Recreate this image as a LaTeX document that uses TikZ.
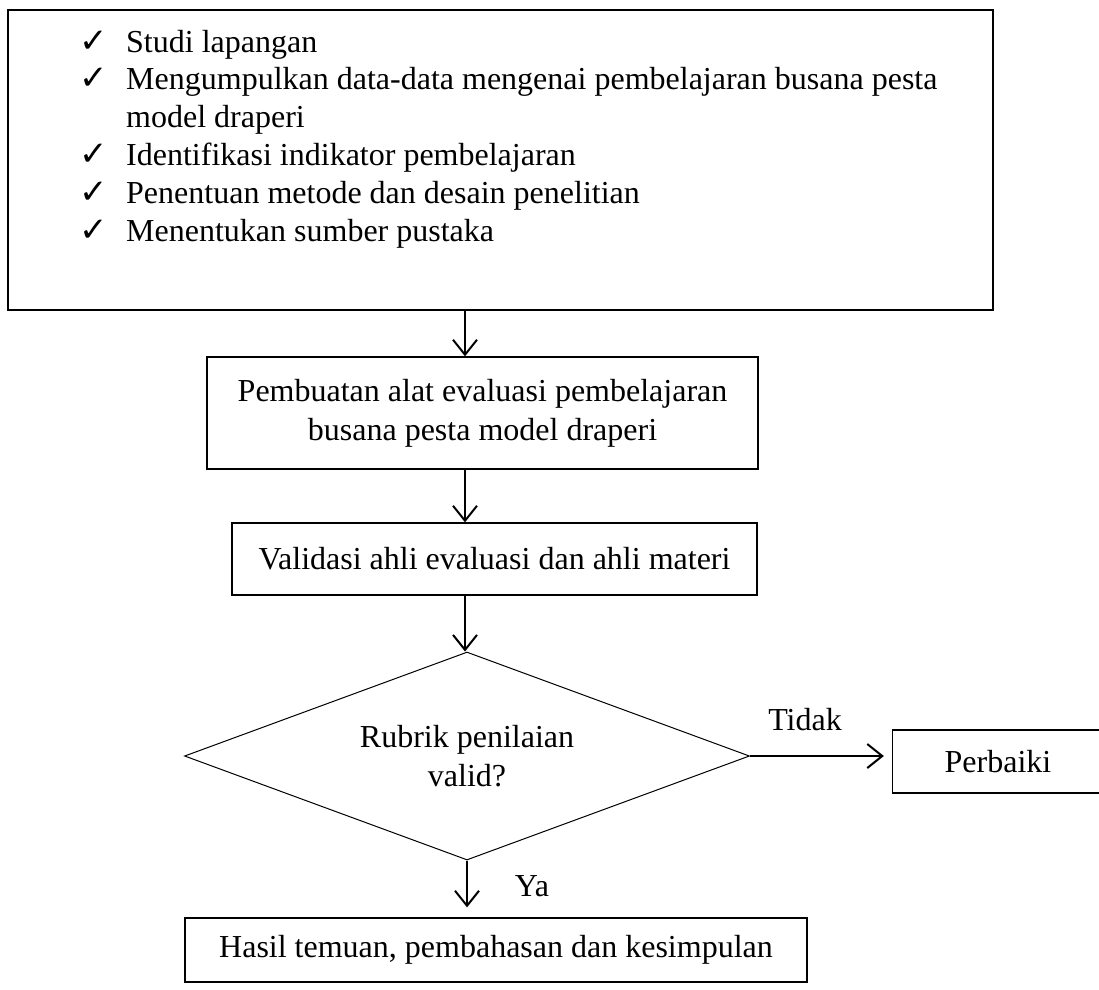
\documentclass[tikz,border=0pt]{standalone}
\usepackage{fontspec}
\setmainfont{Liberation Serif}
\newfontfamily\checkfont{DejaVu Sans}
\usetikzlibrary{shapes.geometric,arrows.meta}
\tikzset{
  box/.style={draw, line width=1.3pt, inner sep=0pt, align=center},
  arr/.style={draw, line width=2pt, -{Straight Barb[length=15pt,width=24pt,line width=2pt]}},
  lbl/.style={inner sep=0pt}
}
\newcommand{\ck}{{\checkfont\fontsize{34}{34}\selectfont ✓}}
\begin{document}
\begin{tikzpicture}[x=1pt,y=-1pt,font=\fontsize{32}{39}\selectfont]
\useasboundingbox (0,0) rectangle (1099,989);
\node[box, minimum width=985pt, minimum height=300pt] (top) at (500.5,160) {};
\node[lbl, anchor=base west] (list) at (79,52) {\fontsize{32}{37.9}\selectfont
\begin{tabular}[t]{@{}p{47pt}@{}l@{}}
\ck & Studi lapangan\\
\ck & Mengumpulkan data-data mengenai pembelajaran busana pesta\\
    & model draperi\\
\ck & Identifikasi indikator pembelajaran\\
\ck & Penentuan metode dan desain penelitian\\
\ck & Menentukan sumber pustaka
\end{tabular}};
\node[box, minimum width=551pt, minimum height=112pt] (b2) at (482.5,413) {Pembuatan alat evaluasi pembelajaran\\busana pesta model draperi};
\node[box, minimum width=525pt, minimum height=72pt] (b3) at (494.5,559) {Validasi ahli evaluasi dan ahli materi};
\node[draw, line width=1pt, shape=diamond, aspect=2.7, inner sep=0pt, minimum width=565pt, minimum height=208pt, align=center] (dec) at (467,756) {Rubrik penilaian\\valid?};
\node[box, minimum width=211pt, minimum height=63pt] (perb) at (998,761.5) {Perbaiki};
\node[box, minimum width=622pt, minimum height=64pt] (res) at (496,950) {Hasil temuan, pembahasan dan kesimpulan};
\draw[arr] (top.south -| 465,0) -- (b2.north -| 465,0);
\draw[arr] (b2.south -| 465,0) -- (b3.north -| 465,0);
\draw[arr] (b3.south -| 465,0) -- (dec.north -| 465,0);
\draw[arr, shorten >=8pt] (dec.east) -- (dec.east -| perb.west);
\draw[arr, shorten >=10pt] (dec.south) -- (dec.south |- res.north);
\node[lbl] (tidak) at (805,720) {Tidak};
\node[lbl] (ya) at (532,886) {Ya};
\end{tikzpicture}
\end{document}
